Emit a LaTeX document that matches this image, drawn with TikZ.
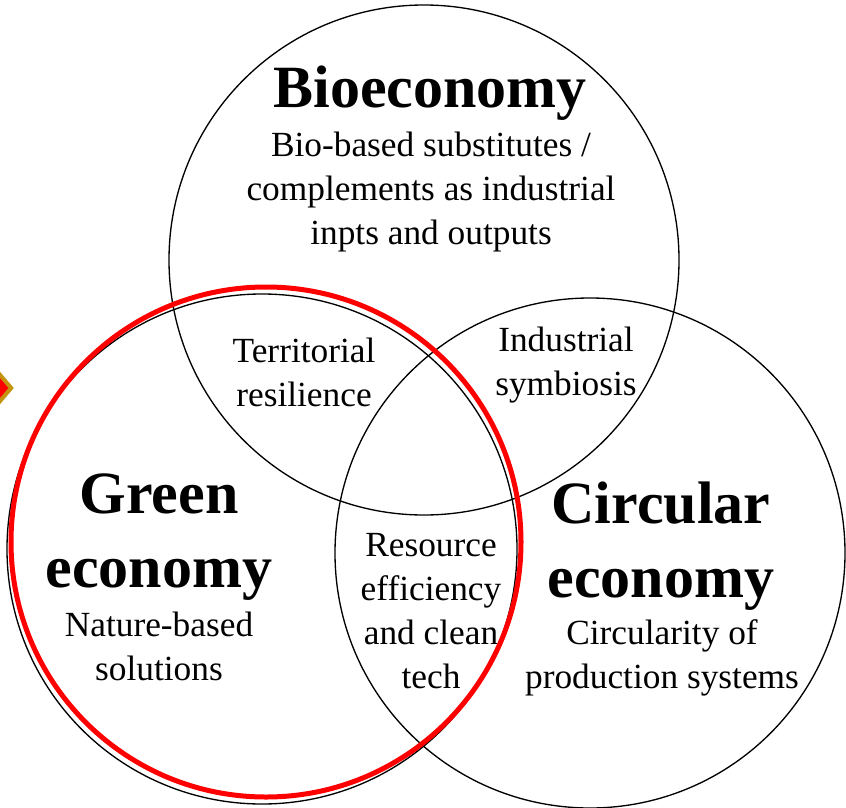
\documentclass[tikz,border=0pt]{standalone}
\usepackage{fontspec}
\setmainfont{Liberation Serif}
\usetikzlibrary{shapes.geometric, positioning}
\definecolor{markgold}{RGB}{196,148,12}
\tikzstyle{venn} = [circle, draw=black, line width=1pt, minimum size=382.5pt, inner sep=0pt]
\tikzstyle{highlight} = [circle, draw=red, line width=3.75pt, minimum size=382.5pt, inner sep=0pt]
\tikzstyle{title} = [align=center, font=\fontsize{45}{55.5}\selectfont\bfseries, inner sep=0pt, anchor=base]
\tikzstyle{desc} = [align=center, font=\fontsize{26.5}{33}\selectfont, inner sep=0pt, anchor=base]
\tikzstyle{marker} = [diamond, fill=red, draw=markgold, line width=3pt, minimum width=18pt, minimum height=21pt, inner sep=0pt]

\begin{document}
\begin{tikzpicture}[x=0.75pt, y=-0.75pt]
\useasboundingbox (0,0) rectangle (846,807);
% the three economies
\node (bio) [venn] at (424,260) {};
\node (green) [venn] at (262,549) {};
\node (circular) [venn] at (590,553) {};

% labels of the circles (placed at the baseline of the last line)
\node (biotitle) [title] at (430,107) {Bioeconomy};
\node (biodesc) [desc] at (431,244) {Bio-based substitutes /\\complements as industrial\\inpts and outputs};
\node (greentitle) [title] at (159,587) {Green\\economy};
\node (greendesc) [desc] at (159,680) {Nature-based\\solutions};
\node (circtitle) [title] at (661,597) {Circular\\economy};
\node (circdesc) [desc] at (662,688) {Circularity of\\production systems};

% overlaps
\node (territorial) [desc] at (304,406) {Territorial\\resilience};
\node (symbiosis) [desc] at (566,395) {Industrial\\symbiosis};
\node (efficiency) [desc] at (431,688) {Resource\\efficiency\\and clean\\tech};

% highlight of the green economy
\node (focus) [highlight] at (266,542) {};
\node (pointer) [marker] at (0,388) {};
\end{tikzpicture}
\end{document}
